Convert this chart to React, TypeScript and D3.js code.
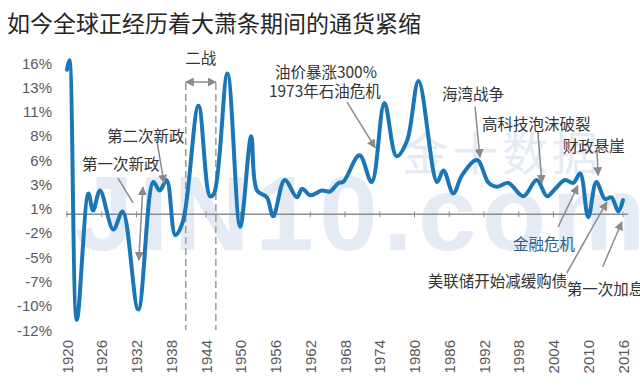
import React from 'react';
import * as d3 from 'd3';

const W = 640;
const H = 391;

// key points: year, inflation %
const YEARS = [
  1920.0, 1920.4, 1921.7, 1923.7, 1924.5, 1925.7, 1928.0, 1929.6, 1932.3, 1934.9,
  1936.0, 1937.2, 1938.7, 1940.0, 1942.7, 1944.7, 1945.4, 1947.7, 1949.9, 1951.8,
  1952.8, 1954.5, 1955.6, 1957.6, 1959.7, 1960.6, 1962.0, 1964.0, 1965.4, 1966.9,
  1967.7, 1970.5, 1972.6, 1974.8, 1976.9, 1978.7, 1980.7, 1983.9, 1985.0, 1986.7,
  1988.2, 1990.8, 1992.8, 1994.2, 1996.2, 1998.8, 2001.1, 2002.9, 2004.3, 2006.0,
  2007.4, 2008.6, 2010.0, 2011.4, 2012.9, 2014.0, 2015.2, 2016.0,
];
const INFLATION = [
  15.2, 16.2, -11.1, 2.2, 0.4, 2.5, -1.6, 0.3, -10.0, 3.4,
  2.5, 3.6, -2.2, -0.8, 11.4, 1.9, 2.2, 14.8, -1.3, 8.2,
  2.5, 1.8, -0.2, 3.6, 1.8, 2.7, 2.0, 2.5, 2.4, 3.3,
  3.4, 6.2, 3.4, 11.7, 6.1, 7.7, 14.0, 3.4, 4.6, 2.2,
  4.1, 5.7, 3.3, 2.9, 3.3, 1.9, 3.6, 1.9, 2.7, 3.6,
  3.3, 4.3, -0.3, 3.4, 1.6, 1.8, 0.3, 1.5,
];

const X_TICKS = [1920, 1926, 1932, 1938, 1944, 1950, 1956, 1962, 1968, 1974, 1980, 1986, 1992, 1998, 2004, 2010, 2016];
const Y_TICK_VALUES = [15.9, 13.35, 10.8, 8.25, 5.7, 3.15, 0.6, -1.95, -4.5, -7.05, -9.6, -12.15];
const Y_TICK_LABELS = ['16%', '13%', '11%', '8%', '6%', '3%', '1%', '-2%', '-5%', '-7%', '-10%', '-12%'];

const WAR_START = 1940.5;
const WAR_END = 1945.7;

// annotation text anchor (year, %) and arrow from -> to
const NOTES = [
  { lines: ['第二次新政'], x: 1926.9, y: 8.3, from: [1935.5, 7.8], to: [1936.75, 3.3], head: true },
  { lines: ['第一次新政'], x: 1922.6, y: 5.4, from: [1928.8, 3.8], to: [1931.4, 1.2], head: false },
  { lines: ['油价暴涨300%', '1973年石油危机'], x: 1955.9, y: 15.1, from: [1968.35, 11.8], to: [1973.2, 7.0], head: true },
  { lines: ['海湾战争'], x: 1984.75, y: 12.75, from: [1990.45, 11.3], to: [1991.3, 6.0], head: true },
  { lines: ['高科技泡沫破裂'], x: 1991.65, y: 9.6, from: [2001.3, 8.65], to: [2002.0, 3.3], head: true },
  { lines: ['财政悬崖'], x: 2005.6, y: 7.3, from: [2011.5, 6.76], to: [2011.7, 4.1], head: true },
  { lines: ['金融危机'], x: 1997.0, y: -3.0, from: [2004.8, -1.33], to: [2008.2, 3.0], head: true, color: '#2f5d8a' },
  { lines: ['美联储开始减缓购债'], x: 1982.3, y: -6.9, from: [2006.3, -6.16], to: [2013.2, 1.3], head: true },
  { lines: ['第一次加息'], x: 2006.3, y: -7.74, from: [2012.5, -5.5], to: [2015.8, -0.8], head: true },
];

const CJK = '"Noto Sans CJK SC", "Noto Sans", sans-serif';
const NUM = '"Liberation Sans", Arial, sans-serif';
const ARROW = '#8a8a8a';

export default function App() {
  const x = d3.scaleLinear().domain([1920, 2016]).range([67, 623]);
  const y = d3.scaleLinear().domain([-12.15, 15.9]).range([330, 63]);

  const pts = YEARS.map((yr, i) => [yr, INFLATION[i]] as [number, number]);
  const line = d3.line<[number, number]>()
    .x(d => x(d[0]))
    .y(d => y(d[1]))
    .curve(d3.curveCatmullRom.alpha(0.5));

  const y0 = y(0);

  return (
    <div style={{ position: 'fixed', left: 0, top: 0, width: W, height: H, background: '#fff' }}>
      <svg width={W} height={H} style={{ display: 'block' }}>
        <defs>
          <marker id="ah" viewBox="0 0 10 10" refX="9" refY="5" markerWidth="9" markerHeight="9"
            markerUnits="userSpaceOnUse" orient="auto-start-reverse">
            <path d="M0,0 L10,5 L0,10 z" fill={ARROW} />
          </marker>
        </defs>

        {/* watermark */}
        <text x={402} y={170} fontFamily={CJK} fontSize={46} letterSpacing={4} fill="#e4ebf5">金十数据</text>
        <text x={75} y={250} fontFamily={NUM} fontWeight="bold" fontSize={105} textLength={570}
          lengthAdjust="spacing" fill="#e4ebf5">JIN10.com</text>

        {/* title */}
        <text x={7} y={32} fontFamily={CJK} fontSize={23} fill="#262626">如今全球正经历着大萧条期间的通货紧缩</text>

        {/* y labels */}
        {Y_TICK_VALUES.map((v, i) => (
          <text key={i} x={52} y={y(v)} textAnchor="end" dominantBaseline="central"
            fontFamily={NUM} fontSize={15} fill="#595959">{Y_TICK_LABELS[i]}</text>
        ))}

        {/* x axis */}
        <line x1={x(1919.8)} x2={x(2016.9)} y1={y0} y2={y0} stroke="#8c8c8c" strokeWidth={1.5} />
        {X_TICKS.map(t => (
          <g key={t}>
            <line x1={x(t)} x2={x(t)} y1={y0 - 3} y2={y0 + 3} stroke="#8c8c8c" strokeWidth={1} />
            <text transform={`translate(${x(t)},340) rotate(-90)`} textAnchor="end" dominantBaseline="central"
              fontFamily={NUM} fontSize={15} fill="#595959">{t}</text>
          </g>
        ))}

        {/* WWII */}
        {[WAR_START, WAR_END].map(t => (
          <line key={t} x1={x(t)} x2={x(t)} y1={y(13.8)} y2={y(-12.15)} stroke="#9a9a9a"
            strokeWidth={1.5} strokeDasharray="7,4" />
        ))}
        <line x1={x(WAR_START)} x2={x(WAR_END)} y1={y(13.9)} y2={y(13.9)} stroke={ARROW} strokeWidth={1.5}
          markerStart="url(#ah)" markerEnd="url(#ah)" />
        <text x={x((WAR_START + WAR_END) / 2)} y={y(16.5)} textAnchor="middle" dominantBaseline="central"
          fontFamily={CJK} fontSize={15.5} fill="#333">二战</text>

        {/* new deal double arrow */}
        <line x1={x(1933.1)} y1={y(2.87)} x2={x(1932.4)} y2={y(-4.8)} stroke={ARROW} strokeWidth={1.5}
          markerStart="url(#ah)" markerEnd="url(#ah)" />

        {/* series */}
        <path d={line(pts) ?? ''} fill="none" stroke="#1a76b6" strokeWidth={4} strokeLinejoin="round" strokeLinecap="round" />

        {/* annotations */}
        {NOTES.map((n, i) => (
          <g key={i}>
            <line x1={x(n.from[0])} y1={y(n.from[1])} x2={x(n.to[0])} y2={y(n.to[1])}
              stroke={ARROW} strokeWidth={1.5} markerEnd={n.head ? 'url(#ah)' : undefined} />
            {n.lines.map((s, j) => (
              <text key={j} x={x(n.x) + (j === 1 ? -6 : 0)} y={y(n.y) + j * 19} dominantBaseline="central"
                fontFamily={CJK} fontSize={15.5} fill={n.color ?? '#333'}>{s}</text>
            ))}
          </g>
        ))}
      </svg>
    </div>
  );
}
